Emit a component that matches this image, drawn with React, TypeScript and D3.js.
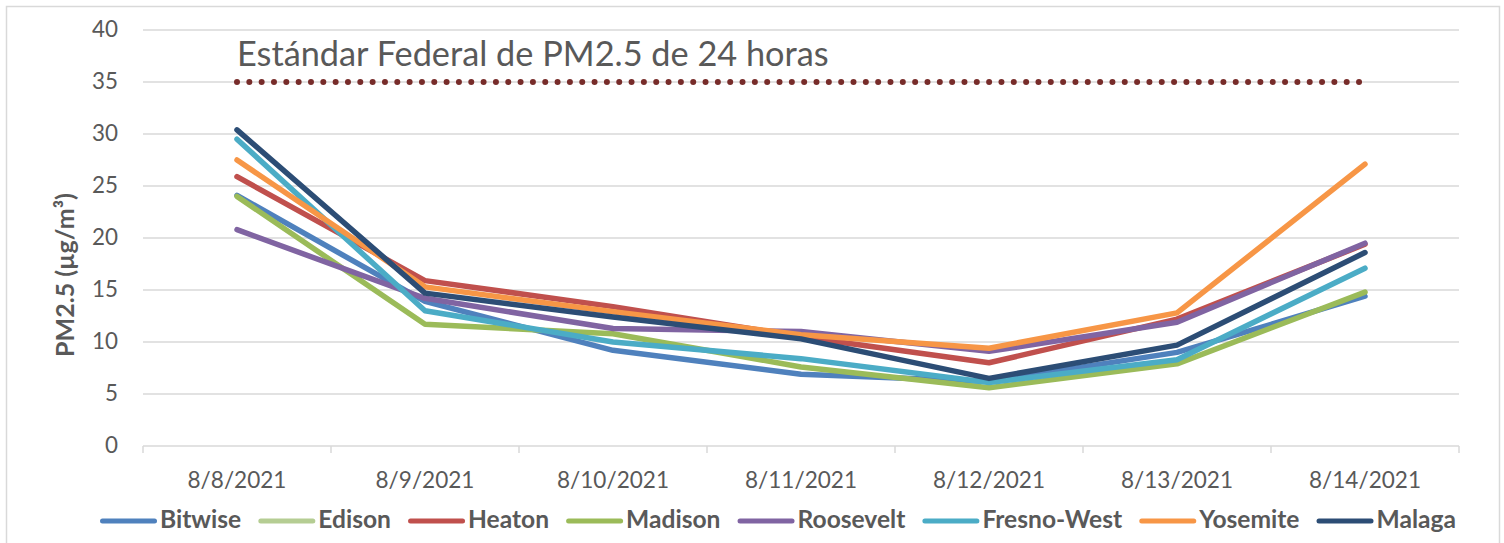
import React, { useEffect, useRef } from "react";
import * as d3 from "d3";

const dates = ["8/8/2021", "8/9/2021", "8/10/2021", "8/11/2021", "8/12/2021", "8/13/2021", "8/14/2021"];

const bitwise = [24.1, 13.9, 9.2, 6.9, 6.2, 9.0, 14.4];
const edison: (number | null)[] = [null, null, null, null, null, null, null];
const heaton = [25.9, 15.9, 13.4, 10.5, 8.0, 12.2, 19.4];
const madison = [24.0, 11.7, 10.8, 7.6, 5.6, 7.9, 14.8];
const roosevelt = [20.8, 14.2, 11.3, 11.0, 9.1, 11.9, 19.5];
const fresnoWest = [29.5, 13.0, 10.0, 8.4, 6.1, 8.3, 17.1];
const yosemite = [27.5, 15.3, 12.9, 10.7, 9.4, 12.8, 27.1];
const malaga = [30.4, 14.7, 12.4, 10.3, 6.5, 9.7, 18.6];

const standard = [35, 35, 35, 35, 35, 35, 35];

const seriesNames = ["Bitwise", "Edison", "Heaton", "Madison", "Roosevelt", "Fresno-West", "Yosemite", "Malaga"];
const seriesValues = [bitwise, edison, heaton, madison, roosevelt, fresnoWest, yosemite, malaga];
const seriesColors = ["#4f81bd", "#b5cd93", "#c0504d", "#9bbb59", "#8064a2", "#4bacc6", "#f79646", "#2c4d75"];

const yTicks = [0, 5, 10, 15, 20, 25, 30, 35, 40];
const standardLabel = "Estándar Federal de PM2.5 de 24 horas";
const yTitle = "PM2.5 (µg/m³)";

const FONT = "Lato, 'Open Sans', sans-serif";
const TEXT = "#595959";
const GRID = "#d9d9d9";

export default function App() {
  const ref = useRef<SVGSVGElement>(null);

  useEffect(() => {
    const svg = d3.select(ref.current);
    svg.selectAll("*").remove();

    const left = 143, right = 1459, top = 30, bottom = 446;
    const x = d3.scaleBand<string>().domain(dates).range([left, right]);
    const cx = (d: string) => (x(d) as number) + x.bandwidth() / 2;
    const y = d3.scaleLinear().domain([0, 40]).range([bottom, top]);

    const fit = (sel: any, base: number, target: number) => {
      const w = (sel.node() as SVGTextElement).getComputedTextLength();
      return (base * target) / w;
    };

    // chart frame
    svg.append("rect")
      .attr("x", 6.5).attr("y", 6.5)
      .attr("width", 1493).attr("height", 560)
      .attr("fill", "#fff").attr("stroke", GRID).attr("stroke-width", 1.5);

    // gridlines
    svg.append("g").selectAll("line").data(yTicks.filter((t) => t > 0)).join("line")
      .attr("x1", left).attr("x2", right)
      .attr("y1", (d) => y(d)).attr("y2", (d) => y(d))
      .attr("stroke", GRID).attr("stroke-width", 1.5);

    // x axis
    svg.append("line").attr("x1", left).attr("x2", right)
      .attr("y1", y(0)).attr("y2", y(0)).attr("stroke", GRID).attr("stroke-width", 1.5);
    const bounds = dates.map((d) => x(d) as number).concat([right]);
    svg.append("g").selectAll("line").data(bounds).join("line")
      .attr("x1", (d) => d).attr("x2", (d) => d)
      .attr("y1", y(0)).attr("y2", y(0) + 7)
      .attr("stroke", GRID).attr("stroke-width", 1.5);

    // y tick labels
    const yl = svg.append("g").selectAll("text").data(yTicks).join("text")
      .attr("x", 118).attr("y", (d) => y(d) + 1)
      .attr("text-anchor", "end").attr("dominant-baseline", "middle")
      .attr("font-family", FONT).attr("font-size", 22).attr("fill", TEXT)
      .text((d) => String(d));
    const yfs = fit(yl.filter((d) => d === 40), 22, 26);
    yl.attr("font-size", yfs);

    // x tick labels
    const xl = svg.append("g").selectAll("text").data(dates).join("text")
      .attr("x", (d) => cx(d)).attr("y", 482)
      .attr("text-anchor", "middle").attr("dominant-baseline", "middle")
      .attr("font-family", FONT).attr("font-size", 21).attr("fill", TEXT)
      .text((d) => d);
    const xfs = fit(xl.filter((d, i) => i === 0), 21, 99);
    xl.attr("font-size", xfs);

    // y axis title
    const yt = svg.append("text")
      .attr("transform", "translate(68,275) rotate(-90)")
      .attr("text-anchor", "middle").attr("dominant-baseline", "middle")
      .attr("font-family", FONT).attr("font-weight", "bold").attr("font-size", 22)
      .attr("fill", TEXT).text(yTitle);
    yt.attr("font-size", fit(yt, 22, 164));

    // standard line (dotted)
    const line = d3.line<number | null>()
      .defined((d) => d != null)
      .x((_, i) => cx(dates[i]))
      .y((d) => y(d as number));

    svg.append("path").attr("d", line(standard) as string)
      .attr("fill", "none").attr("stroke", "#772c2a").attr("stroke-width", 6)
      .attr("stroke-linecap", "round").attr("stroke-dasharray", "0 12.33");

    // standard label
    const sl = svg.append("text")
      .attr("x", cx(dates[0])).attr("y", 66)
      .attr("font-family", FONT).attr("font-size", 30).attr("fill", TEXT)
      .text(standardLabel);
    sl.attr("font-size", fit(sl, 30, 592));

    // series
    seriesValues.forEach((vals, i) => {
      if (vals.every((v) => v == null)) return;
      svg.append("path").attr("d", line(vals) as string)
        .attr("fill", "none").attr("stroke", seriesColors[i]).attr("stroke-width", 5.5)
        .attr("stroke-linecap", "round").attr("stroke-linejoin", "round");
    });

    // legend
    const lg = svg.append("g");
    const base = 20;
    const texts = seriesNames.map((n) =>
      lg.append("text").attr("font-family", FONT).attr("font-weight", "bold")
        .attr("font-size", base).attr("fill", TEXT).attr("dominant-baseline", "middle").text(n)
    );
    const widths = texts.map((t) => (t.node() as SVGTextElement).getComputedTextLength());
    const totalText = d3.sum(widths);
    const k = 757 / totalText;
    const fs = base * k;
    let xpos = 100;
    const ly = 521;
    texts.forEach((t, i) => {
      lg.append("line").attr("x1", xpos + 2.5).attr("x2", xpos + 54.5)
        .attr("y1", ly).attr("y2", ly)
        .attr("stroke", seriesColors[i]).attr("stroke-width", 5).attr("stroke-linecap", "round");
      t.attr("font-size", fs).attr("x", xpos + 60).attr("y", ly + 1);
      xpos += 60 + widths[i] * k + 17;
    });
  }, []);

  return (
    <svg
      ref={ref}
      width={1504}
      height={543}
      style={{ position: "absolute", left: 0, top: 0, background: "#fff" }}
    />
  );
}
